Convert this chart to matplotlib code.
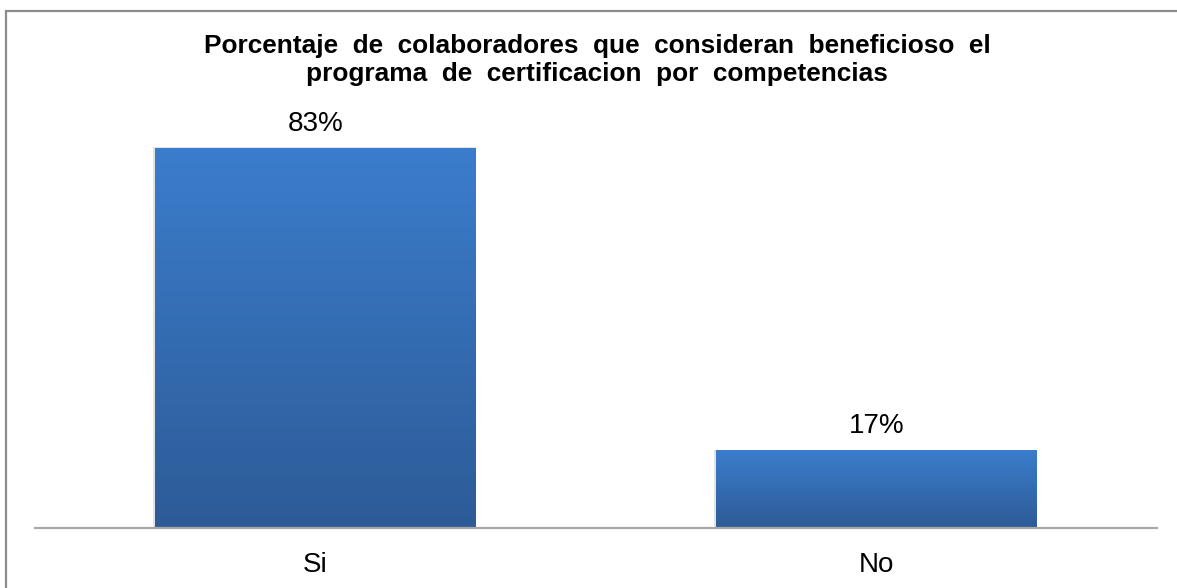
import matplotlib
matplotlib.use("Agg")
import matplotlib.pyplot as plt
import numpy as np
from matplotlib.colors import LinearSegmentedColormap
from matplotlib.patches import Rectangle

# Survey results
categories = ["Si", "No"]
values = [83, 17]
value_labels = ["83%", "17%"]
title_lines = ["Porcentaje  de  colaboradores  que  consideran  beneficioso  el",
               "programa  de  certificacion  por  competencias"]

plt.rcParams['font.family'] = ['Liberation Sans', 'DejaVu Sans']

W, H = 1177, 588
fig = plt.figure(figsize=(W / 100, H / 100), dpi=100)

# chart frame (top and left edges visible, the rest runs off the canvas)
fig.patches.append(Rectangle((5.5 / W, -0.05), 1.2, (H - 10.5) / H + 0.05,
                             transform=fig.transFigure, fill=False,
                             edgecolor='#8c8c8c', linewidth=1.6, zorder=0))

ax = fig.add_axes([35 / W, (H - 528) / H, (1157 - 35) / W, (528 - 100) / H])

x = np.arange(len(categories))
bar_w = 0.572
bars = ax.bar(x, values, width=bar_w, color='none', edgecolor='none', zorder=2)

# vertical gradient fill for each bar: lighter at the top, darker at the base
cmap = LinearSegmentedColormap.from_list('bar_grad', ['#2d5b97', '#3b7dcc'])
grad = np.linspace(0, 1, 256).reshape(-1, 1)
for b in bars:
    x0, w, h = b.get_x(), b.get_width(), b.get_height()
    # soft shadow along the left side
    ax.add_patch(Rectangle((x0 - 0.004, 0), w + 0.004, h * 1.002,
                           facecolor='#e3e3e3', edgecolor='none', zorder=1.5))
    ax.imshow(grad, extent=[x0, x0 + w, 0, h], origin='lower', aspect='auto',
              cmap=cmap, zorder=2, interpolation='bilinear')

for xi, v, lab in zip(x, values, value_labels):
    ax.annotate(lab, xy=(xi, v), xytext=(0, 12.5), textcoords='offset points',
                ha='center', va='baseline', fontsize=20, color='#000000')

ax.set_xlim(-0.5, len(categories) - 0.5)
ax.set_ylim(0, 428 * 83 / 380)
ax.set_xticks(x)
ax.set_xticklabels(categories, fontsize=20)
ax.tick_params(axis='x', length=0, pad=17)
ax.set_yticks([])
for s in ['top', 'right', 'left']:
    ax.spines[s].set_visible(False)
ax.spines['bottom'].set_color('#a6a6a6')
ax.spines['bottom'].set_linewidth(1.6)
ax.patch.set_alpha(0)

# two-line bold title
for line, base_px in zip(title_lines, [53, 81]):
    fig.text(597 / W, (H - base_px) / H, line, ha='center', va='baseline',
             fontsize=18.9, fontweight='bold', color='#000000')

fig.savefig('out.png', dpi=100)
